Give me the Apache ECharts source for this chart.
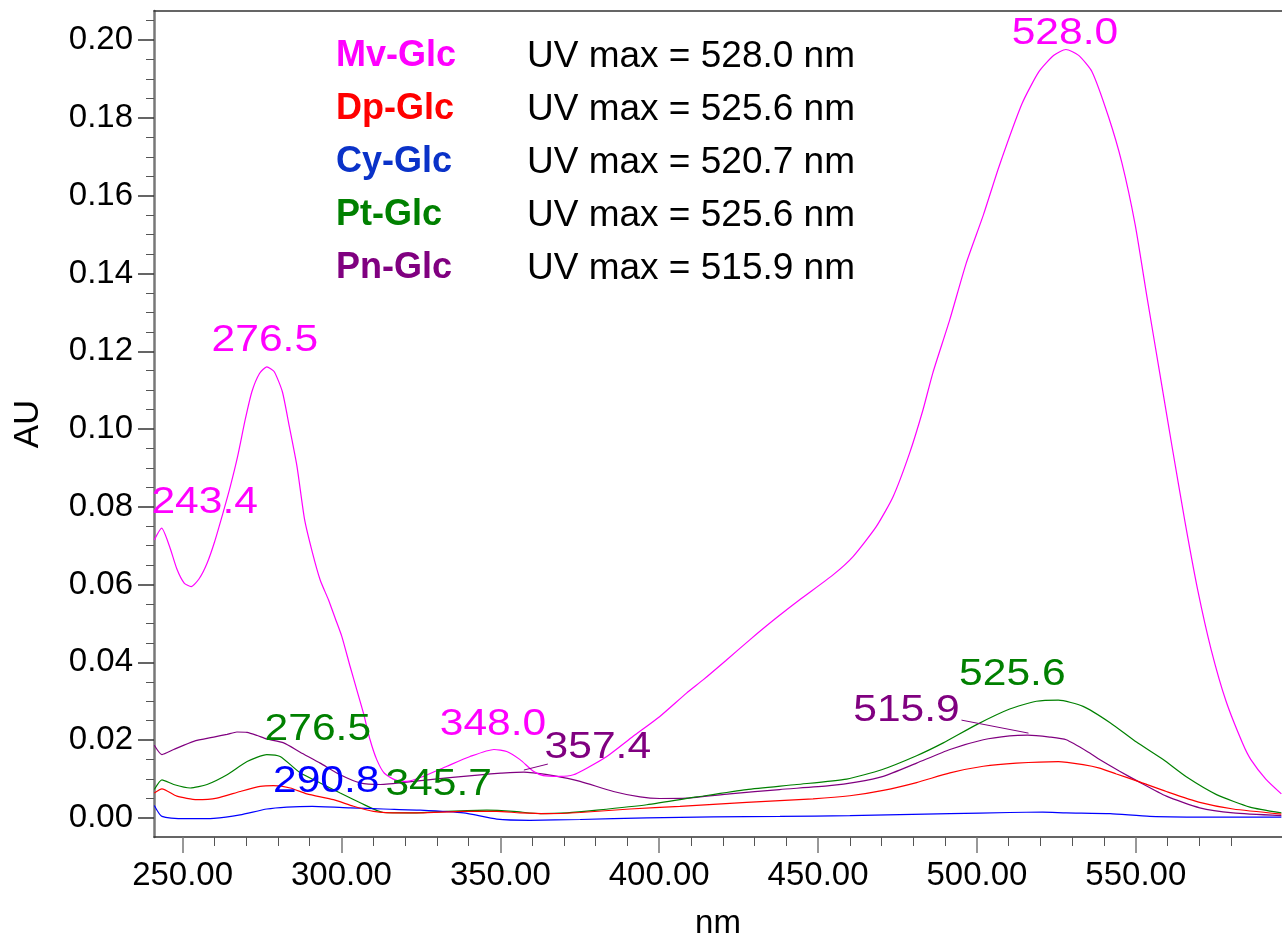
<!DOCTYPE html>
<html>
<head>
<meta charset="utf-8">
<title>UV spectra of anthocyanin glucosides</title>
<script src="https://cdn.jsdelivr.net/npm/echarts@6/dist/echarts.min.js"></script>
<style>
  html, body { margin: 0; padding: 0; background: #fff; }
  #chart { width: 1282px; height: 933px; }
</style>
</head>
<body>
<div id="chart"></div>
<script>
// Absorbance spectra, [wavelength (nm), absorbance (AU)]
const mvGlc = [[241.1,0.0715],[243.4,0.0745],[245.9,0.0698],[248.2,0.0640],[250.5,0.0604],[252.7,0.0595],[255.2,0.0615],[257.7,0.0655],[260.1,0.0711],[262.7,0.0784],[265.0,0.0852],[267.3,0.0929],[269.7,0.1024],[271.8,0.1096],[274.2,0.1143],[276.5,0.1160],[278.8,0.1148],[281.4,0.1096],[283.6,0.1006],[286.0,0.0904],[288.4,0.0767],[290.9,0.0681],[293.3,0.0612],[295.9,0.0561],[298.0,0.0514],[300.1,0.0467],[302.7,0.0390],[304.8,0.0330],[306.9,0.0270],[309.0,0.0201],[311.1,0.0150],[313.5,0.0115],[316.9,0.0098],[320.6,0.0094],[325.8,0.0107],[333.2,0.0133],[340.5,0.0158],[348.0,0.0176],[352.0,0.0171],[356.2,0.0150],[360.4,0.0120],[363.5,0.0109],[368.8,0.0107],[373.0,0.0111],[377.2,0.0128],[383.5,0.0158],[391.8,0.0210],[400.2,0.0261],[408.6,0.0321],[413.8,0.0355],[421.0,0.0405],[428.5,0.0458],[436.5,0.0512],[444.2,0.0561],[454.7,0.0625],[461.0,0.0672],[468.3,0.0749],[473.6,0.0826],[478.8,0.0938],[483.0,0.1049],[486.1,0.1144],[491.4,0.1280],[496.6,0.1426],[502.0,0.1550],[506.9,0.1674],[514.2,0.1837],[519.5,0.1919],[524.2,0.1961],[528.0,0.1976],[532.0,0.1961],[536.2,0.1919],[541.4,0.1803],[545.6,0.1685],[549.8,0.1525],[553.5,0.1340],[557.5,0.1145],[561.5,0.0950],[565.5,0.0760],[569.5,0.0585],[573.7,0.0433],[578.4,0.0300],[583.7,0.0190],[586.2,0.0150],[590.9,0.0100],[595.8,0.0062]];
const dpGlc = [[241.1,0.0064],[243.5,0.0075],[248.2,0.0056],[254.5,0.0047],[260.8,0.0051],[268.1,0.0068],[274.4,0.0081],[278.6,0.0083],[283.9,0.0077],[289.1,0.0062],[297.5,0.0047],[303.8,0.0030],[310.1,0.0017],[318.5,0.0013],[324.8,0.0013],[338.4,0.0017],[348.9,0.0017],[356.2,0.0013],[364.6,0.0011],[375.1,0.0014],[390.8,0.0023],[406.5,0.0030],[427.5,0.0040],[448.4,0.0049],[460.0,0.0057],[470.5,0.0071],[481.0,0.0091],[491.5,0.0116],[502.0,0.0133],[512.4,0.0141],[525.6,0.0145],[533.4,0.0137],[538.6,0.0128],[543.9,0.0113],[550.7,0.0094],[559.6,0.0068],[570.1,0.0040],[580.6,0.0023],[595.8,0.0010]];
const cyGlc = [[241.1,0.0032],[243.5,0.0004],[251.4,-0.0002],[259.8,-0.0001],[268.1,0.0008],[276.5,0.0023],[282.8,0.0028],[290.8,0.0030],[302.7,0.0026],[313.2,0.0023],[324.8,0.0020],[338.4,0.0013],[348.9,-0.0003],[359.3,-0.0006],[375.1,-0.0004],[396.1,0.0000],[417.1,0.0003],[438.0,0.0004],[460.0,0.0006],[491.5,0.0011],[510.3,0.0014],[520.7,0.0015],[528.1,0.0013],[541.9,0.0011],[554.4,0.0004],[575.4,0.0002],[595.8,0.0002]];
const ptGlc = [[241.1,0.0073],[243.5,0.0098],[247.2,0.0086],[252.4,0.0077],[257.7,0.0086],[264.0,0.0111],[270.3,0.0145],[276.5,0.0163],[280.7,0.0158],[287.0,0.0116],[293.3,0.0090],[299.6,0.0064],[305.9,0.0039],[313.2,0.0014],[322.7,0.0013],[333.2,0.0017],[345.7,0.0020],[354.1,0.0017],[362.6,0.0011],[371.0,0.0013],[380.4,0.0020],[396.1,0.0034],[411.9,0.0054],[427.5,0.0073],[443.3,0.0086],[459.0,0.0100],[470.0,0.0124],[481.0,0.0160],[489.4,0.0193],[499.9,0.0240],[510.3,0.0280],[518.7,0.0300],[525.6,0.0303],[533.4,0.0287],[541.9,0.0245],[550.2,0.0195],[558.6,0.0150],[566.0,0.0105],[575.4,0.0060],[585.9,0.0028],[595.8,0.0013]];
const pnGlc = [[241.1,0.0187],[243.5,0.0163],[247.2,0.0176],[253.5,0.0197],[259.8,0.0208],[264.0,0.0215],[267.1,0.0221],[270.3,0.0220],[273.5,0.0212],[276.5,0.0203],[281.8,0.0193],[287.0,0.0169],[293.3,0.0141],[299.6,0.0111],[305.9,0.0090],[312.2,0.0086],[322.7,0.0094],[333.2,0.0103],[343.7,0.0111],[350.2,0.0115],[357.4,0.0118],[360.4,0.0116],[366.7,0.0109],[375.1,0.0094],[385.6,0.0068],[394.0,0.0054],[400.2,0.0050],[408.6,0.0051],[422.2,0.0062],[437.9,0.0073],[453.6,0.0083],[462.0,0.0092],[470.5,0.0107],[481.0,0.0141],[491.5,0.0176],[502.0,0.0201],[510.3,0.0211],[515.9,0.0213],[522.9,0.0208],[528.1,0.0201],[535.5,0.0167],[538.6,0.0150],[544.9,0.0120],[550.7,0.0094],[559.6,0.0056],[570.1,0.0026],[580.6,0.0013],[595.8,0.0006]];

// Compound names and their reported absorption maxima
const compounds = ['Mv-Glc', 'Dp-Glc', 'Cy-Glc', 'Pt-Glc', 'Pn-Glc'];
const uvMax = [528.0, 525.6, 520.7, 525.6, 515.9];

// Peak wavelengths annotated on each trace
const mvPeaks = [243.4, 276.5, 348.0, 528.0];
const cyPeaks = [290.8];
const ptPeaks = [276.5, 345.7, 525.6];
const pnPeaks = [357.4, 515.9];

// Axis ticks
const xTicks = [250, 300, 350, 400, 450, 500, 550];
const xMinorTicks = [260, 270, 280, 290, 310, 320, 330, 340, 360, 370, 380, 390, 410, 420, 430, 440, 460, 470, 480, 490, 510, 520, 530, 540, 560, 570, 580];
const yTicks = [0.00, 0.02, 0.04, 0.06, 0.08, 0.10, 0.12, 0.14, 0.16, 0.18, 0.20];
const yMinorTicks = [0.005, 0.010, 0.015, 0.025, 0.030, 0.035, 0.045, 0.050, 0.055, 0.065, 0.070, 0.075, 0.085, 0.090, 0.095, 0.105, 0.110, 0.115, 0.125, 0.130, 0.135, 0.145, 0.150, 0.155, 0.165, 0.170, 0.175, 0.185, 0.190, 0.195, 0.205];

const FONT = '"Liberation Sans", Arial, Helvetica, sans-serif';
const seriesColors = ['#ff00ff', '#ff0000', '#0000ff', '#008000', '#800080'];
const nameColors = ['#ff00ff', '#ff0000', '#0a32c8', '#008000', '#800080'];
const spectra = [mvGlc, dpGlc, cyGlc, ptGlc, pnGlc];
const peakLists = [mvPeaks, [], cyPeaks, ptPeaks, pnPeaks];

// Placement of each peak label relative to its peak point (px), plus optional leader line
const labelPlacement = {
  'Mv-Glc 243.4': { dx: 43, dy: -25 },
  'Mv-Glc 276.5': { dx: -2, dy: -26 },
  'Mv-Glc 348.0': { dx: -1, dy: -25 },
  'Mv-Glc 528.0': { dx: -1, dy: -16 },
  'Cy-Glc 290.8': { dx: 14, dy: -24 },
  'Pt-Glc 276.5': { dx: 51, dy: -25 },
  'Pt-Glc 345.7': { dx: -48, dy: -25 },
  'Pt-Glc 525.6': { dx: -46, dy: -25 },
  'Pn-Glc 357.4': { dx: 74, dy: -24, leader: [[0, -2], [24, -8]] },
  'Pn-Glc 515.9': { dx: -121, dy: -24, leader: [[1, -2], [-66, -15]] }
};

const chart = echarts.init(document.getElementById('chart'), null, { renderer: 'canvas' });

const richStyles = { u: { color: '#000', fontSize: 37, fontFamily: FONT } };
compounds.forEach((c, i) => {
  richStyles['n' + i] = { color: nameColors[i], fontSize: 36, fontWeight: 'bold', fontFamily: FONT, width: 191 };
});

const xBase = { type: 'value', min: 241, max: 596, gridIndex: 0, splitLine: { show: false } };
const yBase = { type: 'value', min: -0.0049, max: 0.2075, gridIndex: 0, splitLine: { show: false } };

chart.setOption({
  animation: false,
  backgroundColor: '#fff',
  grid: { left: 154, right: 0, top: 11, bottom: 96, containLabel: false, outerBoundsMode: 'none' },
  legend: {
    data: compounds,
    orient: 'vertical',
    left: 331,
    top: 38,
    icon: 'rect',
    itemWidth: 0,
    itemHeight: 0,
    itemGap: 16,
    padding: 0,
    selectedMode: false,
    formatter: name => {
      const i = compounds.indexOf(name);
      return '{n' + i + '|' + name + '}{u|UV max = ' + uvMax[i].toFixed(1) + ' nm}';
    },
    textStyle: { rich: richStyles }
  },
  xAxis: [
    Object.assign({}, xBase, {
      position: 'bottom',
      name: 'nm',
      nameLocation: 'middle',
      nameGap: 70,
      nameTextStyle: { color: '#000', fontSize: 33, fontFamily: FONT },
      axisLine: { show: true, onZero: false, lineStyle: { color: '#333', width: 1.5 } },
      axisTick: { show: true, inside: false, length: 16, customValues: xTicks, lineStyle: { color: '#777', width: 1.5 } },
      axisLabel: { show: true, customValues: xTicks, margin: 22, color: '#000', fontSize: 33, fontFamily: FONT, formatter: v => v.toFixed(2) }
    }),
    Object.assign({}, xBase, {
      position: 'bottom',
      axisLine: { show: false, onZero: false },
      axisTick: { show: true, inside: false, length: 9, customValues: xMinorTicks, lineStyle: { color: '#555', width: 1 } },
      axisLabel: { show: false }
    }),
    Object.assign({}, xBase, {
      position: 'top',
      axisLine: { show: true, onZero: false, lineStyle: { color: '#333', width: 1.5 } },
      axisTick: { show: false },
      axisLabel: { show: false }
    })
  ],
  yAxis: [
    Object.assign({}, yBase, {
      position: 'left',
      name: 'AU',
      nameLocation: 'middle',
      nameGap: 108,
      nameRotate: 90,
      nameTextStyle: { color: '#000', fontSize: 35, fontFamily: FONT },
      axisLine: { show: true, onZero: false, lineStyle: { color: '#777', width: 2.5 } },
      axisTick: { show: true, inside: false, length: 16, customValues: yTicks, lineStyle: { color: '#333', width: 1.5 } },
      axisLabel: { show: true, customValues: yTicks, margin: 21, color: '#000', fontSize: 33, fontFamily: FONT, formatter: v => v.toFixed(2) }
    }),
    Object.assign({}, yBase, {
      position: 'left',
      axisLine: { show: false, onZero: false },
      axisTick: { show: true, inside: false, length: 8, customValues: yMinorTicks, lineStyle: { color: '#555', width: 1 } },
      axisLabel: { show: false }
    })
  ],
  series: compounds.map((name, i) => ({
    name: name,
    type: 'line',
    xAxisIndex: 0,
    yAxisIndex: 0,
    data: spectra[i],
    showSymbol: false,
    symbol: 'none',
    smooth: 0.2,
    color: seriesColors[i],
    lineStyle: { color: seriesColors[i], width: 1.2 },
    z: 5 - i
  }))
});

// Peak annotations: text placed from the peak's own data point
function peakValue(data, nm) {
  const hit = data.find(p => Math.abs(p[0] - nm) < 1e-6);
  return hit ? hit[1] : null;
}
const graphics = [];
compounds.forEach((name, i) => {
  peakLists[i].forEach(nm => {
    const v = peakValue(spectra[i], nm);
    if (v === null) return;
    const p = chart.convertToPixel({ xAxisIndex: 0, yAxisIndex: 0 }, [nm, v]);
    const place = labelPlacement[name + ' ' + nm.toFixed(1)] || { dx: 0, dy: -26 };
    graphics.push({
      type: 'text',
      x: p[0] + place.dx,
      y: p[1] + place.dy,
      scaleX: 1.15,
      z: 20,
      style: {
        x: 0, y: 0,
        text: nm.toFixed(1),
        fill: seriesColors[i],
        font: '37px ' + FONT,
        textAlign: 'center', align: 'center',
        textVerticalAlign: 'middle', verticalAlign: 'middle'
      }
    });
    if (place.leader) {
      graphics.push({
        type: 'line',
        z: 20,
        shape: {
          x1: p[0] + place.leader[0][0], y1: p[1] + place.leader[0][1],
          x2: p[0] + place.leader[1][0], y2: p[1] + place.leader[1][1]
        },
        style: { stroke: seriesColors[i], lineWidth: 1 }
      });
    }
  });
});
chart.setOption({ graphic: graphics });
</script>
</body>
</html>
